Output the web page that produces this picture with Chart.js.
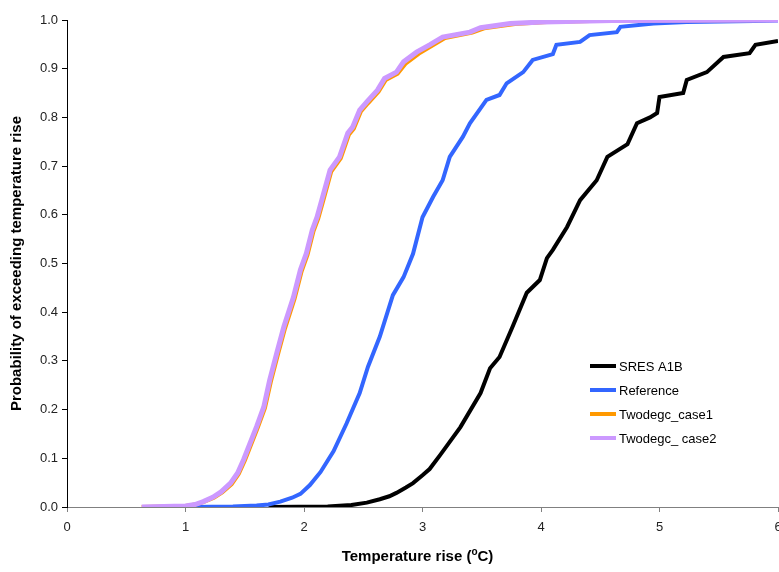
<!DOCTYPE html>
<html>
<head>
<meta charset="utf-8">
<script src="https://cdn.jsdelivr.net/npm/chart.js@4.4.1/dist/chart.umd.min.js"></script>
<style>
  body { margin: 0; background: #fff; }
  #wrap { width: 779px; height: 572px; position: relative; }
</style>
</head>
<body>
<div id="wrap"><canvas id="chart"></canvas></div>
<script>
// temperature rise (deg C) vs probability
const seriesLabels = ["SRES A1B", "Reference", "Twodegc_case1", "Twodegc_ case2"];

const sresX = [1.70, 2.2, 2.4, 2.53, 2.64, 2.72, 2.78, 2.86, 2.92, 3.0, 3.06, 3.15, 3.32, 3.49, 3.57, 3.65, 3.76, 3.88, 3.99, 4.05, 4.10, 4.22, 4.33, 4.47, 4.56, 4.73, 4.81, 4.92, 4.98, 5.0, 5.2, 5.23, 5.4, 5.54, 5.76, 5.81, 6.0];
const sresY = [0, 0.001, 0.004, 0.009, 0.016, 0.022, 0.029, 0.04, 0.049, 0.065, 0.078, 0.107, 0.164, 0.234, 0.285, 0.308, 0.37, 0.44, 0.466, 0.511, 0.528, 0.575, 0.63, 0.671, 0.719, 0.745, 0.788, 0.80, 0.809, 0.842, 0.85, 0.877, 0.893, 0.924, 0.932, 0.949, 0.957];

const refX = [1.04, 1.4, 1.6, 1.7, 1.8, 1.9, 1.97, 2.05, 2.14, 2.25, 2.36, 2.47, 2.54, 2.64, 2.75, 2.84, 2.92, 3.0, 3.09, 3.17, 3.23, 3.34, 3.40, 3.54, 3.65, 3.71, 3.85, 3.93, 4.10, 4.13, 4.33, 4.41, 4.64, 4.67, 4.95, 5.23, 5.8, 6.0];
const refY = [0, 0.001, 0.003, 0.005, 0.011, 0.019, 0.027, 0.045, 0.072, 0.115, 0.172, 0.234, 0.288, 0.35, 0.435, 0.472, 0.52, 0.595, 0.637, 0.671, 0.719, 0.76, 0.788, 0.836, 0.846, 0.87, 0.893, 0.918, 0.93, 0.949, 0.955, 0.969, 0.975, 0.986, 0.993, 0.996, 0.998, 0.999];

const case1X = [0.63, 1.0, 1.08, 1.15, 1.24, 1.31, 1.39, 1.45, 1.50, 1.61, 1.67, 1.72, 1.78, 1.84, 1.92, 1.98, 2.03, 2.08, 2.12, 2.16, 2.23, 2.31, 2.38, 2.42, 2.48, 2.54, 2.63, 2.69, 2.79, 2.86, 2.97, 3.08, 3.19, 3.42, 3.52, 3.78, 4.05, 4.6, 6.0];
const case1Y = [0, 0.002, 0.005, 0.01, 0.019, 0.03, 0.047, 0.068, 0.095, 0.163, 0.203, 0.257, 0.313, 0.367, 0.427, 0.484, 0.518, 0.566, 0.592, 0.627, 0.689, 0.716, 0.765, 0.777, 0.812, 0.829, 0.853, 0.877, 0.89, 0.911, 0.931, 0.947, 0.963, 0.974, 0.983, 0.992, 0.996, 0.999, 1.0];

const case2X = [0.63, 1.0, 1.08, 1.15, 1.23, 1.30, 1.38, 1.44, 1.49, 1.6, 1.66, 1.71, 1.77, 1.83, 1.91, 1.97, 2.02, 2.07, 2.11, 2.15, 2.22, 2.30, 2.37, 2.41, 2.47, 2.53, 2.62, 2.68, 2.78, 2.84, 2.95, 3.06, 3.17, 3.40, 3.49, 3.74, 4.02, 4.6, 6.0];
const case2Y = [0, 0.002, 0.005, 0.011, 0.02, 0.031, 0.049, 0.07, 0.097, 0.165, 0.205, 0.26, 0.316, 0.37, 0.43, 0.487, 0.521, 0.569, 0.595, 0.63, 0.692, 0.719, 0.768, 0.78, 0.815, 0.832, 0.856, 0.88, 0.893, 0.914, 0.934, 0.949, 0.965, 0.975, 0.984, 0.993, 0.996, 0.999, 1.0];

const colors = ["#000000", "#3366FF", "#FF9900", "#CC99FF"];
const widths = [4, 4, 4, 5];

const pts = (xs, ys) => xs.map((x, i) => ({ x: x, y: ys[i] }));
const allData = [pts(sresX, sresY), pts(refX, refY), pts(case1X, case1Y), pts(case2X, case2Y)];

const FONT = "'Liberation Sans', Arial, sans-serif";

// legend drawn inside the plot, lines + text like the original
const insideLegend = {
    id: "insideLegend",
    afterDraw(chart) {
        const ctx = chart.ctx;
        const area = chart.chartArea;
        const x0 = area.right - 188;
        const y0 = area.bottom - 141;
        ctx.save();
        ctx.font = "13px " + FONT;
        ctx.textBaseline = "middle";
        chart.data.datasets.forEach((ds, i) => {
            const y = y0 + i * 24;
            ctx.strokeStyle = ds.borderColor;
            ctx.lineWidth = 4;
            ctx.beginPath();
            ctx.moveTo(x0, y);
            ctx.lineTo(x0 + 26, y);
            ctx.stroke();
            ctx.fillStyle = "#000";
            ctx.fillText(ds.label, x0 + 29, y + 1);
        });
        ctx.restore();
    },
};

// x axis title with a raised "o"
const xTitle = {
    id: "xTitle",
    afterDraw(chart) {
        const ctx = chart.ctx;
        const area = chart.chartArea;
        const cx = (area.left + area.right) / 2 - 5;
        const y = 557;
        const a = "Temperature rise (", b = "o", c = "C)";
        ctx.save();
        ctx.fillStyle = "#000";
        ctx.textBaseline = "middle";
        ctx.font = "bold 15px " + FONT;
        const wa = ctx.measureText(a).width;
        const wc = ctx.measureText(c).width;
        ctx.font = "bold 10px " + FONT;
        const wb = ctx.measureText(b).width;
        let x = cx - (wa + wb + wc) / 2;
        ctx.font = "bold 15px " + FONT;
        ctx.fillText(a, x, y);
        ctx.font = "bold 10px " + FONT;
        ctx.fillText(b, x + wa, y - 5);
        ctx.font = "bold 15px " + FONT;
        ctx.fillText(c, x + wa + wb, y);
        ctx.restore();
    },
};

new Chart(document.getElementById("chart"), {
    type: "scatter",
    data: {
        datasets: allData.map((d, i) => ({
            label: seriesLabels[i],
            data: d,
            showLine: true,
            borderColor: colors[i],
            backgroundColor: colors[i],
            borderWidth: widths[i],
            pointRadius: 0,
            tension: 0,
            order: 3 - i,
        })),
    },
    options: {
        responsive: true,
        maintainAspectRatio: false,
        animation: false,
        layout: { padding: { top: 20, right: 1, left: 0, bottom: 0 } },
        plugins: {
            legend: { display: false },
            tooltip: { enabled: false },
        },
        scales: {
            x: {
                type: "linear",
                min: 0,
                max: 6,
                ticks: {
                    stepSize: 1,
                    color: "#222",
                    font: { family: FONT, size: 13 },
                    padding: 8,
                    maxRotation: 0,
                },
                grid: {
                    display: true,
                    drawOnChartArea: false,
                    drawTicks: true,
                    tickLength: 5,
                    color: "#808080",
                },
                border: { color: "#808080", width: 1 },
                afterFit: (scale) => {
                    scale.height = 65;
                    scale.paddingLeft = 0;
                    scale.paddingRight = 0;
                },
            },
            y: {
                min: 0,
                max: 1,
                ticks: {
                    stepSize: 0.1,
                    color: "#222",
                    font: { family: FONT, size: 13 },
                    padding: 4,
                    callback: (value) => value.toFixed(1),
                },
                grid: {
                    display: true,
                    drawOnChartArea: false,
                    drawTicks: true,
                    tickLength: 5,
                    color: "#000",
                },
                border: { color: "#000", width: 1 },
                title: {
                    display: true,
                    text: "Probability of exceeding temperature rise",
                    color: "#000",
                    font: { family: FONT, size: 15, weight: "bold" },
                    padding: { top: 8, bottom: 0 },
                },
                afterFit: (scale) => {
                    scale.width = 67;
                    scale.paddingTop = 0;
                    scale.paddingBottom = 0;
                },
            },
        },
    },
    plugins: [insideLegend, xTitle],
});
</script>
</body>
</html>
